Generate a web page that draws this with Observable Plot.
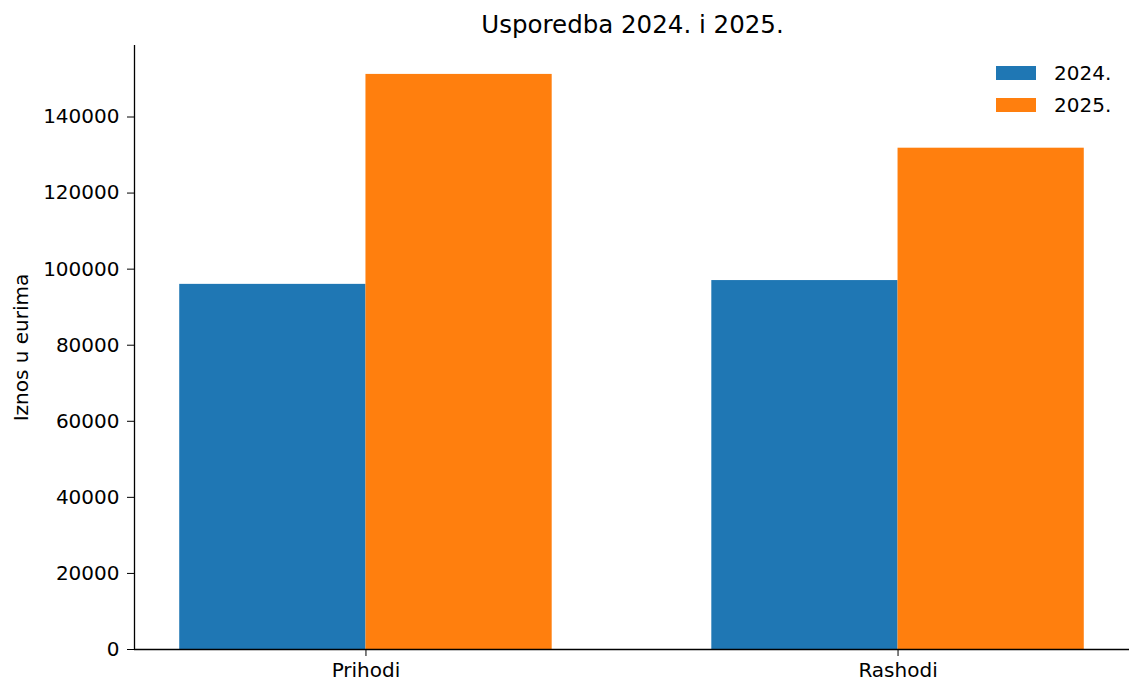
<!DOCTYPE html>
<html>
<head>
<meta charset="utf-8">
<script src="https://cdn.jsdelivr.net/npm/d3@7"></script>
<script src="https://cdn.jsdelivr.net/npm/@observablehq/plot@0.6"></script>
<style>
  body { margin: 0; background: #fff; font-family: "DejaVu Sans", sans-serif; }
  #wrap { position: relative; width: 1129px; height: 683px; overflow: hidden; }
  #title { height: 40px; text-align: center; font-size: 24.5px; line-height: 50px; padding-left: 136px; box-sizing: border-box; color: #000; white-space: nowrap; }
  #legend { position: absolute; left: 996px; top: 57px; font-size: 20px; }
  .li { display: flex; align-items: center; height: 32px; }
  .sw { width: 40px; height: 14px; margin-right: 18px; }
</style>
</head>
<body>
<div id="wrap">
  <div id="title">Usporedba 2024. i 2025.</div>
  <div id="chart"></div>
  <div id="legend"></div>
</div>
<script>
const categories = ["Prihodi", "Rashodi"];
const years = ["2024.", "2025."];
const values2024 = [96000, 97000];
const values2025 = [151200, 131800];
const colors = ["#1f77b4", "#ff7f0e"];
const yTicks = [0, 20000, 40000, 60000, 80000, 100000, 120000, 140000];
const yLabel = "Iznos u eurima";

const barWidth = 0.35;
const xDomain = [-0.435, categories.length - 1 + 0.435];
const series = [values2024, values2025];
const rows = [];
categories.forEach((c, i) => {
  series.forEach((vals, j) => {
    rows.push({category: c, year: years[j], value: vals[i], x1: i + (j - 1) * barWidth, x2: i + j * barWidth});
  });
});

const chart = Plot.plot({
  width: 1129,
  height: 643,
  marginLeft: 134,
  marginRight: 0,
  marginTop: 5,
  marginBottom: 34,
  style: {fontFamily: "DejaVu Sans, sans-serif", fontSize: "20px", color: "#000", background: "#fff", overflow: "visible"},
  x: {domain: xDomain},
  y: {domain: [0, 158800]},
  color: {domain: years, range: colors},
  marks: [
    Plot.rect(rows, {x1: "x1", x2: "x2", y1: 0, y2: "value", fill: "year"}),
    Plot.ruleY([0], {stroke: "#000", strokeWidth: 1.3}),
    Plot.ruleX([xDomain[0]], {stroke: "#000", strokeWidth: 1.3}),
    Plot.axisX({ticks: categories.map((c, i) => i), tickFormat: i => categories[i], tickSize: 7, tickPadding: 6, label: null}),
    Plot.axisY({ticks: yTicks, tickFormat: d => String(d), tickSize: 7, tickPadding: 8, label: yLabel, labelArrow: false, labelAnchor: "center", labelOffset: 121})
  ]
});
document.getElementById("chart").appendChild(chart);

const legend = document.getElementById("legend");
years.forEach((y, j) => {
  const row = document.createElement("div");
  row.className = "li";
  row.innerHTML = `<div class="sw" style="background:${colors[j]}"></div><span>${y}</span>`;
  legend.appendChild(row);
});
</script>
</body>
</html>
